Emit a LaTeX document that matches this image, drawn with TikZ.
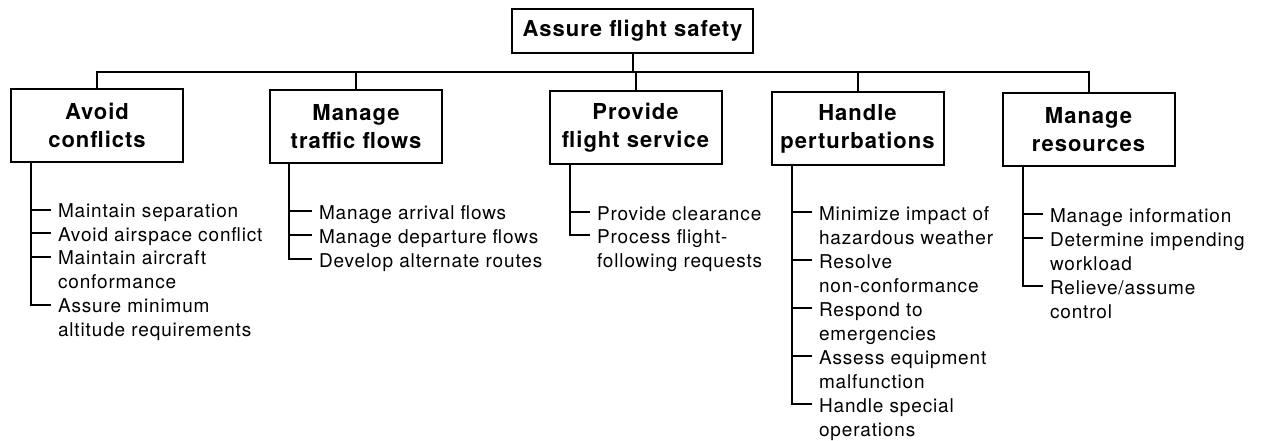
\documentclass[tikz,border=0pt]{standalone}
\usepackage{fontspec}
\setmainfont{TeX Gyre Heros}
\newfontfamily\boxfamily[LetterSpace=4.5]{TeX Gyre Heros}
\newfontfamily\itemfamily[LetterSpace=4.5]{TeX Gyre Heros}
\begin{document}
\begin{tikzpicture}[x=1pt,y=-1pt,line width=2pt,
  hbox/.style={draw,line width=2pt,align=center,inner sep=0pt,
    minimum width=172pt,minimum height=73pt,
    font={\boxfamily\bfseries\fontsize{22}{28}\selectfont}},
  item/.style={anchor=north west,inner xsep=6pt,inner ysep=0pt,align=left,
    font={\itemfamily\fontsize{19}{24}\selectfont}}]
\useasboundingbox (0,0) rectangle (1261,441);
% main nodes
\node[hbox,minimum width=241pt,minimum height=44pt] (top) at (632.5,31) {Assure flight safety};
\node[hbox] (b1) at (97,125.5) {Avoid\\conflicts};
\node[hbox] (b2) at (356,126.5) {Manage\\traffic flows};
\node[hbox] (b3) at (635.5,128) {Provide\\flight service};
\node[hbox] (b4) at (857.5,129) {Handle\\perturbations};
\node[hbox] (b5) at (1088.5,129.5) {Manage\\resources};
% tree connectors
\coordinate (bus) at (0,72);
\draw (top.south) -- (top.south |- bus);
\draw (b1.north) -- (b1.north |- bus) -| (b5.north);
\draw (b2.north) -- (b2.north |- bus);
\draw (b3.north) -- (b3.north |- bus);
\draw (b4.north) -- (b4.north |- bus);
% items box 1
\node[item] (a1) at (51,199.7) {\strut Maintain separation};
\node[item] (a2) at (51,223.2) {\strut Avoid airspace conflict};
\node[item] (a3) at (51,246.7) {\strut Maintain aircraft\\conformance};
\node[item] (a4) at (51,294.7) {\strut Assure minimum\\altitude requirements};
% items box 2
\node[item] (c1) at (312,201.2) {\strut Manage arrival flows};
\node[item] (c2) at (312,225.2) {\strut Manage departure flows};
\node[item] (c3) at (312,249.2) {\strut Develop alternate routes};
% items box 3
\node[item] (d1) at (590,202.2) {\strut Provide clearance};
\node[item] (d2) at (590,225.2) {\strut Process flight-\\following requests};
% items box 4
\node[item] (e1) at (812,202.2) {\strut Minimize impact of\\hazardous weather};
\node[item] (e2) at (812,250.2) {\strut Resolve\\non-conformance};
\node[item] (e3) at (812,298.2) {\strut Respond to\\emergencies};
\node[item] (e4) at (812,346.2) {\strut Assess equipment\\malfunction};
\node[item] (e5) at (812,394.2) {\strut Handle special\\operations};
% items box 5
\node[item] (f1) at (1043,204.2) {\strut Manage information};
\node[item] (f2) at (1043,228.2) {\strut Determine impending\\workload};
\node[item] (f3) at (1043,276.2) {\strut Relieve/assume\\control};
% tick points
\foreach \n in {a1,a2,a3,a4,c1,c2,c3,d1,d2,e1,e2,e3,e4,e5,f1,f2,f3}
  \coordinate (t\n) at ([yshift=-9.8pt]\n.north west);
% list connectors
\draw (b1.south west) ++(21pt,0) coordinate (v1) -- (v1 |- ta4) -- (ta4);
\foreach \n in {a1,a2,a3} \draw (v1 |- t\n) -- (t\n);
\draw (b2.south west) ++(20pt,0) coordinate (v2) -- (v2 |- tc3) -- (tc3);
\foreach \n in {c1,c2} \draw (v2 |- t\n) -- (t\n);
\draw (b3.south west) ++(21pt,0) coordinate (v3) -- (v3 |- td2) -- (td2);
\foreach \n in {d1} \draw (v3 |- t\n) -- (t\n);
\draw (b4.south west) ++(21pt,0) coordinate (v4) -- (v4 |- te5) -- (te5);
\foreach \n in {e1,e2,e3,e4} \draw (v4 |- t\n) -- (t\n);
\draw (b5.south west) ++(21pt,0) coordinate (v5) -- (v5 |- tf3) -- (tf3);
\foreach \n in {f1,f2} \draw (v5 |- t\n) -- (t\n);
\end{tikzpicture}
\end{document}
